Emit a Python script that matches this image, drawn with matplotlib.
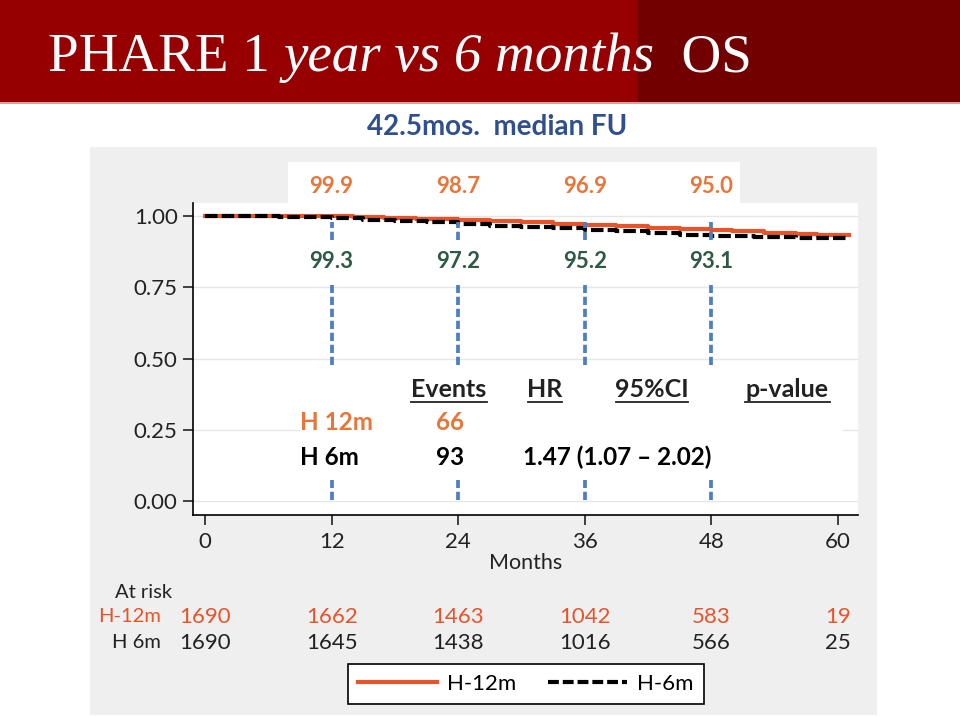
"""
PHARE 1 year vs 6 months OS - curva de Kaplan-Meier con tabla de riesgo.
"""
import matplotlib
matplotlib.use('Agg')
import matplotlib.pyplot as plt
from matplotlib.patches import Rectangle
from matplotlib.lines import Line2D

W, H = 960, 717
SANS = ['Lato', 'DejaVu Sans']

# ── Datos ─────────────────────────────────────────────────────────────────────
months_12m = [0, 10, 14, 17, 20, 24, 27, 30, 33, 36, 39, 42, 45, 48, 50, 53, 56, 58, 61]
surv_12m   = [1.0, 0.999, 0.996, 0.993, 0.990, 0.987, 0.983, 0.978, 0.974, 0.969,
              0.965, 0.960, 0.956, 0.950, 0.946, 0.942, 0.938, 0.935, 0.935]
months_6m  = [0, 7, 10, 12, 15, 18, 21, 24, 27, 30, 33, 36, 39, 42, 45, 48, 52, 56, 61]
surv_6m    = [1.0, 0.998, 0.996, 0.993, 0.988, 0.983, 0.978, 0.972, 0.967, 0.962,
              0.957, 0.952, 0.946, 0.940, 0.935, 0.931, 0.927, 0.923, 0.922]

mark_months = [12, 24, 36, 48]
pct_12m     = ["99.9", "98.7", "96.9", "95.0"]
pct_6m      = ["99.3", "97.2", "95.2", "93.1"]

tick_months = [0, 12, 24, 36, 48, 60]
risk_12m    = [1690, 1662, 1463, 1042, 583, 19]
risk_6m     = [1690, 1645, 1438, 1016, 566, 25]

ORANGE = "#E8542A"
TXT_OR = "#E8763A"
GREEN  = "#2E5A45"
BLUE   = "#4F7FC0"

fig = plt.figure(figsize=(W / 100, H / 100), dpi=100)
fig.patch.set_facecolor("white")

def fx(px):
    return px / W

def fy(py):
    return 1 - py / H

def rect_px(x0, y0, x1, y1, **kw):
    fig.patches.append(Rectangle((fx(x0), fy(y1)), fx(x1) - fx(x0), fy(y0) - fy(y1),
                                 transform=fig.transFigure, zorder=-5, **kw))

# ── Cabecera ─────────────────────────────────────────────────────────────────
rect_px(0, 0, 638, 102, facecolor="#970000", edgecolor="none")
rect_px(638, 0, W, 102, facecolor="#730000", edgecolor="none")
rect_px(0, 102, W, 104, facecolor="#D9A0A0", edgecolor="none")

renderer = fig.canvas.get_renderer()
x = fx(48)
for piece, style in [("PHARE 1 ", "normal"), ("year vs 6 months", "italic"), ("  OS", "normal")]:
    t = fig.text(x, fy(71), piece, color="white", fontsize=39.6, fontstyle=style,
                 family=["Liberation Serif", "DejaVu Serif"], ha="left", va="baseline")
    bb = t.get_window_extent(renderer)
    x = bb.x1 / fig.bbox.width

fig.text(fx(497), fy(127), "42.5mos.  median FU", color="#2F4F8F", fontsize=20,
         fontweight="bold", family=SANS, ha="center", va="center")

# ── Panel gris y cajas blancas ───────────────────────────────────────────────
rect_px(90, 147, 877, 715, facecolor="#EFEFEF", edgecolor="none")
rect_px(288, 162, 740, 203, facecolor="white", edgecolor="none")

ax = fig.add_axes([fx(193), fy(515), fx(858) - fx(193), fy(203) - fy(515)])
ax.set_zorder(2)
ax.set_facecolor("white")
ax.set_xlim(-1.14, 61.9)
ax.set_ylim(-0.049, 1.046)
for s in ["top", "right"]:
    ax.spines[s].set_visible(False)
ax.spines["left"].set_linewidth(1.2)
ax.spines["bottom"].set_linewidth(1.2)

ax.set_yticks([0, 0.25, 0.5, 0.75, 1.0])
ax.set_yticklabels(["0.00", "0.25", "0.50", "0.75", "1.00"])
ax.set_xticks(tick_months)
ax.tick_params(axis="both", labelsize=16, length=7, width=1.2, colors="#222")
for lab in ax.get_xticklabels() + ax.get_yticklabels():
    lab.set_family(SANS)
ax.tick_params(axis="x", pad=5)
ax.tick_params(axis="y", pad=4)
ax.grid(axis="y", color="#E6E6E6", lw=1)
ax.set_axisbelow(True)
ax.set_xlabel("Months", fontsize=15.5, family=SANS, labelpad=1, color="#222")

# Caja blanca detrás de la tabla (tapa la rejilla)
ax.add_patch(Rectangle((9, 0.13), 51.5, 0.34, facecolor="white", edgecolor="none", zorder=1))

# Curvas
ax.plot(months_12m, surv_12m, drawstyle="steps-post", color=ORANGE, lw=3, zorder=4)
ax.plot(months_6m, surv_6m, drawstyle="steps-post", color="black", lw=3,
        dashes=(3.0, 1.0), zorder=5)

# Líneas azules verticales
for m in mark_months:
    for y0, y1 in [(0.916, 0.979), (0.477, 0.758), (0.004, 0.074)]:
        ax.plot([m, m], [y0, y1], color=BLUE, lw=2.7, dashes=(2.2, 1.0), zorder=6)

# Porcentajes
for m, a, b in zip(mark_months, pct_12m, pct_6m):
    ax.text(m, 1.105, a, color=TXT_OR, fontsize=16, fontweight="bold", family=SANS,
            ha="center", va="center", clip_on=False)
    ax.text(m, 0.839, b, color=GREEN, fontsize=16, fontweight="bold", family=SANS,
            ha="center", va="center")

# Tabla HR
hdr_y = 0.392
headers = [(23.1, "Events", 3.6), (32.2, "HR", 1.6), (42.4, "95%CI", 3.4), (55.2, "p-value", 4.0)]
for xm, lab, half in headers:
    ax.text(xm, hdr_y, lab, fontsize=18, fontweight="bold", family=SANS,
            ha="center", va="center", color="#222", zorder=7)
    ax.plot([xm - half, xm + half], [0.347, 0.347], color="#222", lw=1.3, zorder=7)

ax.text(9.0, 0.274, "H 12m", fontsize=17.5, fontweight="bold", family=SANS, color=TXT_OR,
        ha="left", va="center", zorder=7)
ax.text(23.2, 0.274, "66", fontsize=17.5, fontweight="bold", family=SANS, color=TXT_OR,
        ha="center", va="center", zorder=7)
ax.text(9.0, 0.154, "H 6m", fontsize=17.5, fontweight="bold", family=SANS, color="black",
        ha="left", va="center", zorder=7)
ax.text(23.2, 0.154, "93", fontsize=17.5, fontweight="bold", family=SANS, color="black",
        ha="center", va="center", zorder=7)
ax.text(30.1, 0.154, "1.47 (1.07 \u2013 2.02)", fontsize=17.5, fontweight="bold", family=SANS,
        color="black", ha="left", va="center", zorder=7)

# ── Tabla "At risk" ──────────────────────────────────────────────────────────
tr = ax.get_xaxis_transform()
fig.text(fx(115), fy(592), "At risk", fontsize=14.5, family=SANS, color="#222",
         ha="left", va="center")
fig.text(fx(161), fy(617), "H-12m", fontsize=14.5, family=SANS, color=ORANGE,
         ha="right", va="center")
fig.text(fx(161), fy(643), "H 6m", fontsize=14.5, family=SANS, color="#222",
         ha="right", va="center")
y12 = (fy(617) - fy(515)) / (fy(203) - fy(515))
y6 = (fy(643) - fy(515)) / (fy(203) - fy(515))
for m, a, b in zip(tick_months, risk_12m, risk_6m):
    ax.text(m, y12, str(a), transform=tr, fontsize=16, family=SANS, color=ORANGE,
            ha="center", va="center", clip_on=False)
    ax.text(m, y6, str(b), transform=tr, fontsize=16, family=SANS, color="#222",
            ha="center", va="center", clip_on=False)

# ── Leyenda ──────────────────────────────────────────────────────────────────
handles = [Line2D([], [], color=ORANGE, lw=3),
           Line2D([], [], color="black", lw=3, dashes=(2.6, 0.95))]
leg = fig.legend(handles, ["H-12m", "H-6m"], loc="center",
                 bbox_to_anchor=(fx(526), fy(684)), ncol=2, frameon=True,
                 fancybox=False, edgecolor="black", handlelength=3.55,
                 handletextpad=0.45, columnspacing=1.45,
                 prop={"family": SANS, "size": 16}, borderpad=0.45)
leg.get_frame().set_linewidth(1.2)
leg.get_frame().set_facecolor("white")
leg.get_frame().set_alpha(1)

fig.savefig("out.png", dpi=100, facecolor=fig.get_facecolor())
